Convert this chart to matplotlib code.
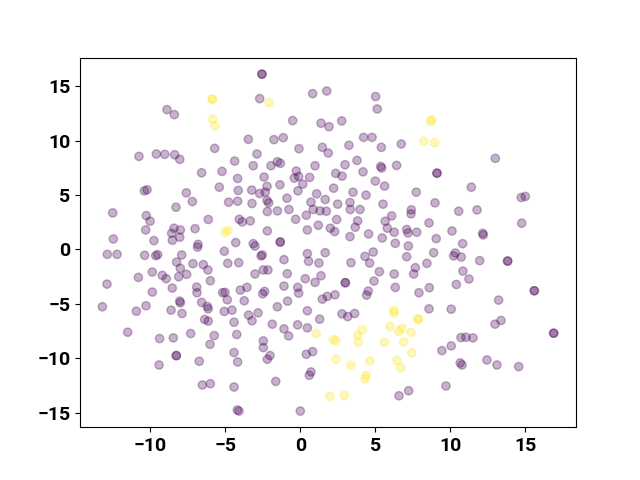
import matplotlib
matplotlib.use("Agg")
import matplotlib.pyplot as plt
import numpy as np

# class 0 (purple) points
x0 = [-8.9,-8.41,-10.77,-9.61,-9.05,-8.39,-8.05,-6.59,-10.41,-10.23,-7.61,-7.21,-8.3,-12.52,-10.28,-10.03,-6.15,-10.32,-8.43,-8.01,-8.59,-8.05,-8.54,-7.03,-12.48,-9.77,-6.83,-6.86,
      -12.88,-12.23,-10.39,-9.65,-9.52,-7.92,-8.26,-7.17,-8.01,-6.48,-9.88,-10.81,-9.21,-8.95,-8.12,-7.59,-12.9,-8.55,-6.92,-6.9,-9.88,-8.05,-8.01,-6.59,-13.21,-10.3,-10.94,-8.63,-7.9,-6.39,-6.15,-11.52,-9.39,-8.48,-7.32,-8.28,-8.28,-6.75,-9.43,-6.54,
      -4.32,-3.15,-3.03,-1.35,-1.35,-5.08,-4.85,-4.12,-2.55,-2.63,-3.03,-2.48,-2.17,-0.88,-1.1,0.46,0.54,1.23,1.65,-6.17,-6.01,-5.19,-5.03,-4.88,-4.01,-3.57,-2.52,-2.39,-3.75,-1.1,-0.19,-0.12,0.32,0.97,1.37,-0.86,-1.54,1.46,-6.21,-6.15,-5.08,-4.57,-3.46,-3.23,-2.83,0.46,-4.43,-1.88,-1.1,-0.79,-0.19,0.46,1.28,-5.75,-6.03,-4.25,-2.48,-2.48,-2.03,-2.21,-4.43,-4.19,0.39,0.81,0.7,0.59,-6.01,-4.43,-1.65,-4.21,-4.1,-0.01,
      -2.57,-2.57,-2.72,0.81,1.75,-0.52,1.37,-3.48,-1.77,-1.15,-5.72,-0.1,1.46,-2.9,-4.39,-3.15,-1.97,-1.54,-1.34,-5.23,-4.19,-2.43,-0.28,-0.12,-0.41,0.61,0.15,0.97,-5.41,-4.15,-3.25,-2.23,-2.72,-2.35,-1.37,-0.17,1.08,-4.79,-4.19,-3.23,-2.23,-2.12,-0.9,0.7,1.65,-4.08,-3.88,-3.35,-2.21,-1.54,-0.77,-0.32,0.39,0.85,1.3,1.72,-2.21,0.46,1.19,
      5.01,5.12,1.9,2.75,4.21,4.77,1.85,3.23,5.39,6.72,2.97,3.77,5.35,5.41,6.41,9.1,9.1,2.35,2.77,4.17,4.99,5.61,2.21,3.5,4.37,7.72,2.48,3.3,3.32,3.97,5.5,8.97,2.41,3.81,3.65,6.08,5.65,5.79,7.39,7.37,8.57,1.99,2.28,4.54,5.45,6.25,7.08,7.17,7.75,9.05,3.3,6.32,7.19,
      4.3,4.85,4.61,3.37,7.08,8.88,8.43,7.66,7.55,5.26,6.25,2.99,2.99,4.9,6.32,7.9,8.59,4.52,4.41,1.79,2.3,2.77,3.15,3.61,8.57,9.43,9.7,6.57,7.21,
      12.99,11.39,14.72,14.99,10.55,11.77,14.75,10.1,12.15,12.19,10.81,
      10.32,10.21,10.72,11.95,13.81,13.81,10.83,11.23,10.39,15.59,15.59,13.21,10.05,13.37,12.97,16.88,16.88,10.7,11.03,11.5,10.05,10.65,10.77,12.43,13.1,14.55]
y0 = [12.84,12.38,8.54,8.76,8.73,8.69,8.27,7.03,5.37,5.47,5.19,4.39,3.87,3.35,3.1,2.58,2.74,1.78,1.94,1.78,1.47,1.11,0.83,1.9,0.95,0.8,0.45,0.2,
      -0.46,-0.46,-0.55,-0.58,-0.49,-0.52,-1.17,-1.32,-1.75,-1.41,-2.09,-2.58,-2.4,-2.7,-2.52,-2.3,-3.2,-3.56,-3.47,-3.99,-3.93,-4.76,-4.92,-4.88,-5.28,-5.19,-5.69,-5.59,-5.9,-6.45,-6.6,-7.62,-8.2,-8.14,-7.74,-9.77,-9.77,-10.29,-10.63,-12.47,
      0.62,0.52,0.3,0.67,0.67,-0.18,-1.29,-1.23,-0.52,-0.61,-2.27,-1.9,-1.9,-2.24,-0.95,-0.4,-1.1,-1.26,-0.31,-1.9,-2.89,-3.99,-3.96,-4.64,-3.75,-3.5,-4.09,-3.87,-4.73,-3.38,-3.5,-4.03,-2.7,-3.04,-2.43,-4.76,-5.28,-4.58,-5.25,-5.47,-5.71,-5.59,-6.05,-6.57,-5.84,-5.65,-6.7,-6.88,-7.31,-7.96,-6.94,-7.22,-6.42,-7.93,-8.73,-7.83,-8.42,-9.03,-9.77,-10.11,-9.49,-10.35,-9.65,-9.4,-11.27,-11.58,-12.35,-12.66,-12.14,-14.77,-14.87,-14.87,
      16.1,16.1,13.85,14.31,14.55,11.83,11.59,10.11,10.08,10.26,9.28,9.25,9.37,8.76,8.11,7.68,7.68,8.05,7.9,7.16,6.51,6.64,7.19,6.7,6.54,6.61,5.99,7.68,5.71,5.41,5.44,5.78,5.13,5.25,5.93,5.37,5.1,4.33,4.42,4.21,4.49,4.27,4.7,4.33,4.58,2.76,2.52,2.61,3.47,3.53,3.66,2.76,3.13,3.66,3.53,3.5,1.69,1.78,2.21,
      14.04,12.9,11.27,11.8,10.29,10.29,8.85,9.56,9.37,9.68,7.77,8.17,7.62,7.47,7.71,7.0,7.0,6.98,6.73,7.12,6.27,5.81,5.62,5.25,4.98,5.25,4.15,4.3,3.66,3.66,4.15,4.27,2.74,2.61,2.03,3.07,2.58,1.94,3.63,3.26,2.42,1.94,1.63,1.41,1.04,1.57,1.82,1.5,1.57,0.98,1.17,0.55,0.3,
      -0.65,-0.25,-1.26,-1.23,-0.68,-0.31,-1.29,-1.69,-2.27,-2.06,-2.27,-3.07,-3.07,-2.92,-3.5,-3.99,-3.53,-3.84,-4.21,-4.33,-4.18,-5.93,-6.18,-5.9,-5.47,-9.31,-12.56,-13.46,-13.0,
      8.36,5.71,4.76,4.86,3.5,3.62,2.4,1.69,1.47,1.32,0.52,
      -0.34,-0.61,-0.71,-1.04,-1.08,-1.08,-2.0,-2.73,-3.23,-3.81,-3.81,-4.67,-5.5,-6.54,-6.88,-7.71,-7.71,-8.11,-8.08,-8.14,-8.88,-10.44,-10.63,-10.17,-10.63,-10.78]

# class 1 (yellow) points
x1 = [1.05,-5.88,-5.88,-2.1,-5.85,-5.7,-5.03,-4.85,8.68,8.75,8.23,8.95,
      6.23,6.23,7.85,7.85,4.12,3.81,3.85,2.19,2.35,5.97,6.55,6.77,7.37,6.88,5.61,7.43,2.37,3.35,4.63,6.43,6.68,4.39,4.3,1.97,2.92]
y1 = [-7.74,13.8,13.8,13.48,11.98,11.34,1.54,1.75,11.77,11.92,9.93,9.8,
      -5.62,-5.84,-6.42,-6.42,-7.4,-7.9,-8.54,-8.29,-8.39,-7.1,-7.53,-7.28,-7.65,-8.51,-8.54,-9.52,-10.11,-10.63,-10.26,-10.23,-10.9,-11.58,-11.89,-13.52,-13.43]

xs = np.array(x0 + x1)
ys = np.array(y0 + y1)
labels = np.array([0] * len(x0) + [1] * len(x1))

plt.rcParams['font.family'] = ['Roboto', 'DejaVu Sans']
plt.rcParams['font.weight'] = 'bold'

fig, ax = plt.subplots(figsize=(6.4, 4.8), dpi=100)
ax.scatter(xs, ys, c=labels, cmap='viridis', alpha=0.3)
ax.set_xlim(-14.7, 18.37)
ax.set_ylim(-16.35, 17.62)
ax.set_xticks([-10, -5, 0, 5, 10, 15])
ax.set_yticks([-15, -10, -5, 0, 5, 10, 15])
ax.tick_params(labelsize=14)
for lab in ax.get_xticklabels() + ax.get_yticklabels():
    lab.set_fontweight('bold')
fig.savefig('out.png', dpi=100)
